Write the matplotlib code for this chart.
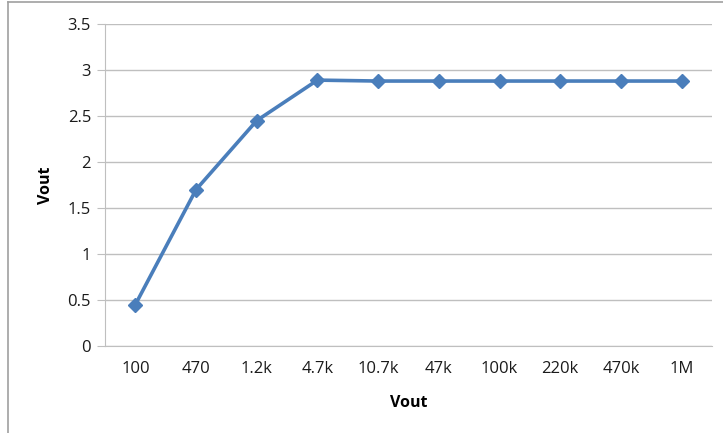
import matplotlib.pyplot as plt
from matplotlib.lines import Line2D

categories = ["100", "470", "1.2k", "4.7k", "10.7k", "47k", "100k", "220k", "470k", "1M"]
vout = [0.45, 1.70, 2.45, 2.89, 2.88, 2.88, 2.88, 2.88, 2.88, 2.88]
yticks = [0, 0.5, 1, 1.5, 2, 2.5, 3, 3.5]

plt.rcParams['font.family'] = ['Open Sans', 'DejaVu Sans']

fig = plt.figure(figsize=(7.23, 4.33), dpi=100)
ax = fig.add_axes([105 / 723, 1 - 346 / 433, 607 / 723, 322 / 433])

x = range(len(categories))
ax.plot(x, vout, color="#4A7EBB", linewidth=2.6, marker="D", markersize=7.5,
        markerfacecolor="#4A7EBB", markeredgecolor="#4A7EBB", zorder=3)

ax.set_xlim(-0.5, len(categories) - 0.5)
ax.set_ylim(0, 3.5)
ax.set_yticks(yticks)
ax.set_yticklabels(["0", "0.5", "1", "1.5", "2", "2.5", "3", "3.5"])
ax.set_xticks(list(x))
ax.set_xticklabels(categories)

ax.grid(axis="y", color="#BFBFBF", linewidth=1.0)
ax.set_axisbelow(True)
for side in ["top", "right"]:
    ax.spines[side].set_visible(False)
ax.spines["left"].set_color("#BFBFBF")
ax.spines["bottom"].set_color("#BFBFBF")
ax.tick_params(axis="y", length=6, color="#BFBFBF", labelsize=12, pad=4, labelcolor="#1a1a1a")
ax.tick_params(axis="x", length=0, labelsize=12, pad=11, labelcolor="#1a1a1a")

ax.set_xlabel("Vout", fontweight="bold", fontsize=11.5, labelpad=13)
ax.set_ylabel("Vout", fontweight="bold", fontsize=11.5, labelpad=10)

# chart border (top and left edges visible)
fig.add_artist(Line2D([8 / 723, 1], [1 - 2 / 433, 1 - 2 / 433], color="#A0A0A0", linewidth=1.2))
fig.add_artist(Line2D([8 / 723, 8 / 723], [0, 1 - 2 / 433], color="#A0A0A0", linewidth=1.2))

fig.savefig("out.png", dpi=100)
